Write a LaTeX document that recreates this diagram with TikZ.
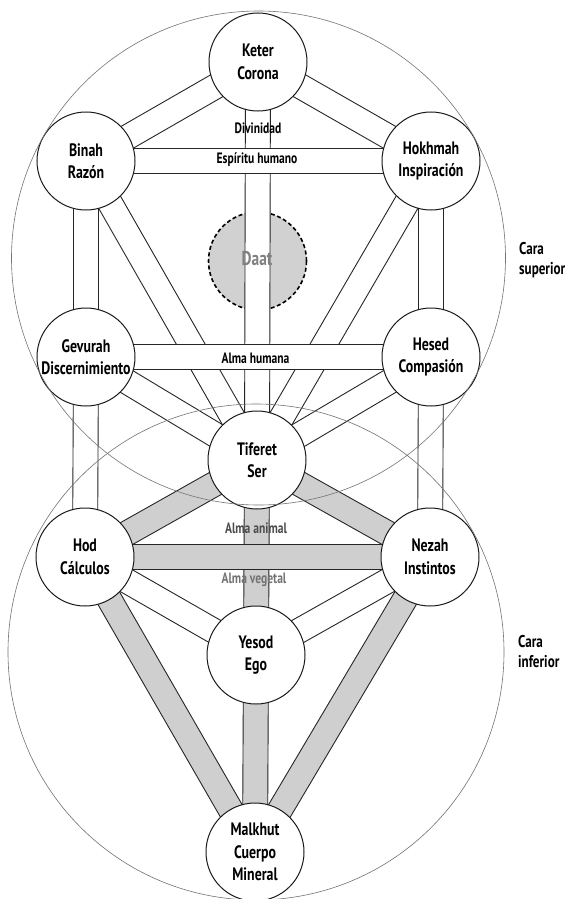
\documentclass[tikz,border=0pt]{standalone}
\usepackage{fontspec}
\setmainfont[FakeStretch=0.77]{PT Sans}
\usetikzlibrary{calc}
\pgfdeclarelayer{bgzero}
\pgfdeclarelayer{bgone}
\pgfdeclarelayer{bgtwo}
\pgfdeclarelayer{bgthree}
\pgfdeclarelayer{fg}
\pgfsetlayers{bgzero,bgone,bgtwo,bgthree,main,fg}
\definecolor{bandgray}{gray}{0.81}
\definecolor{daatgray}{gray}{0.82}
\definecolor{edgecol}{gray}{0.15}
\newcommand\mywband[2]{\draw[bandedge] ($(#1)!12.5pt!90:(#2)$) -- ($(#2)!12.5pt!-90:(#1)$) ($(#1)!12.5pt!-90:(#2)$) -- ($(#2)!12.5pt!90:(#1)$);}
\newcommand\myfband[3]{\fill[#3] ($(#1)!12.5pt!90:(#2)$) -- ($(#2)!12.5pt!-90:(#1)$) -- ($(#2)!12.5pt!90:(#1)$) -- ($(#1)!12.5pt!-90:(#2)$) -- cycle; \mywband{#1}{#2}}
\tikzset{
  sefira/.style={circle, draw=black!90, line width=1pt, fill=white, minimum size=98pt, inner sep=0pt, align=center, font=\fontsize{18}{22.5}\selectfont\bfseries},
  bandedge/.style={draw=edgecol, line width=0.9pt},
  bandlabel/.style={font=\fontsize{15}{18}\selectfont\bfseries, inner sep=0pt},
  outerface/.style={circle, draw=black!55, line width=0.6pt, inner sep=0pt},
  sidelabel/.style={font=\fontsize{17}{20}\selectfont\bfseries, align=left, inner sep=0pt, anchor=west},
  daatstyle/.style={circle, fill=daatgray, draw=black, line width=1.6pt, dash pattern=on 4pt off 2.6pt, minimum size=98pt, inner sep=0pt}
}
\begin{document}
\begin{tikzpicture}[x=1pt,y=-1pt]
\useasboundingbox (0,0) rectangle (576,899);
\begin{pgfonlayer}{bgzero}
  \fill[white] (0,0) rectangle (576,899);
  \node[daatstyle] (daat) at (257.5,261) {};
\end{pgfonlayer}
% sefirot
\node[sefira] (keter)   at (258,62)  {Keter\\Corona};
\node[sefira] (binah)   at (86,161)  {Binah\\Razón};
\node[sefira] (hokhmah) at (431,161) {Hokhmah\\Inspiración};
\node[sefira] (gevurah) at (86,357)  {Gevurah\\Discernimiento};
\node[sefira] (hesed)   at (431,357) {Hesed\\Compasión};
\node[sefira] (tiferet) at (257,460) {Tiferet\\Ser};
\node[sefira] (hod)     at (85,557)  {Hod\\Cálculos};
\node[sefira] (nezah)   at (430,557) {Nezah\\Instintos};
\node[sefira] (yesod)   at (256,655) {Yesod\\Ego};
\node[sefira] (malkhut) at (255,852) {Malkhut\\Cuerpo\\Mineral};
% white paths (lines only)
\begin{pgfonlayer}{bgone}
  \mywband{keter}{binah}
  \mywband{keter}{hokhmah}
  \mywband{binah}{gevurah}
  \mywband{hokhmah}{hesed}
  \mywband{gevurah}{hod}
  \mywband{hesed}{nezah}
  \mywband{binah}{tiferet}
  \mywband{hokhmah}{tiferet}
  \mywband{gevurah}{tiferet}
  \mywband{hesed}{tiferet}
  \mywband{hod}{yesod}
  \mywband{nezah}{yesod}
\end{pgfonlayer}
\begin{pgfonlayer}{bgtwo}
  \myfband{keter}{tiferet}{white}
  \myfband{binah}{hokhmah}{white}
  \myfband{gevurah}{hesed}{white}
\end{pgfonlayer}
\begin{pgfonlayer}{bgthree}
  \myfband{tiferet}{hod}{bandgray}
  \myfband{tiferet}{nezah}{bandgray}
  \myfband{tiferet}{yesod}{bandgray}
  \myfband{yesod}{malkhut}{bandgray}
  \myfband{hod}{malkhut}{bandgray}
  \myfband{nezah}{malkhut}{bandgray}
  \myfband{hod}{nezah}{bandgray}
\end{pgfonlayer}
% labels
\node[font=\fontsize{20}{22}\selectfont\bfseries, text=black!50, inner sep=0pt] (daatlabel) at (257,259) {Daat};
\node[bandlabel] (divinidad) at (258,128) {Divinidad};
\node[bandlabel] (espiritu) at (257,160) {Espíritu humano};
\node[bandlabel] (almahumana) at (255.5,358) {Alma humana};
\node[bandlabel, text=black!70] (almaanimal) at (256,528) {Alma animal};
\node[bandlabel, text=black!55] (almavegetal) at (254,580) {Alma vegetal};
\begin{pgfonlayer}{fg}
  \node[outerface, minimum size=494pt] (carasup) at (258.5,258) {};
  \node[outerface, minimum size=496pt] (carainf) at (256,652) {};
\end{pgfonlayer}
\node[sidelabel] (lblsup) at (519,260) {Cara\\superior};
\node[sidelabel] (lblinf) at (518,652) {Cara\\inferior};
\end{tikzpicture}
\end{document}
